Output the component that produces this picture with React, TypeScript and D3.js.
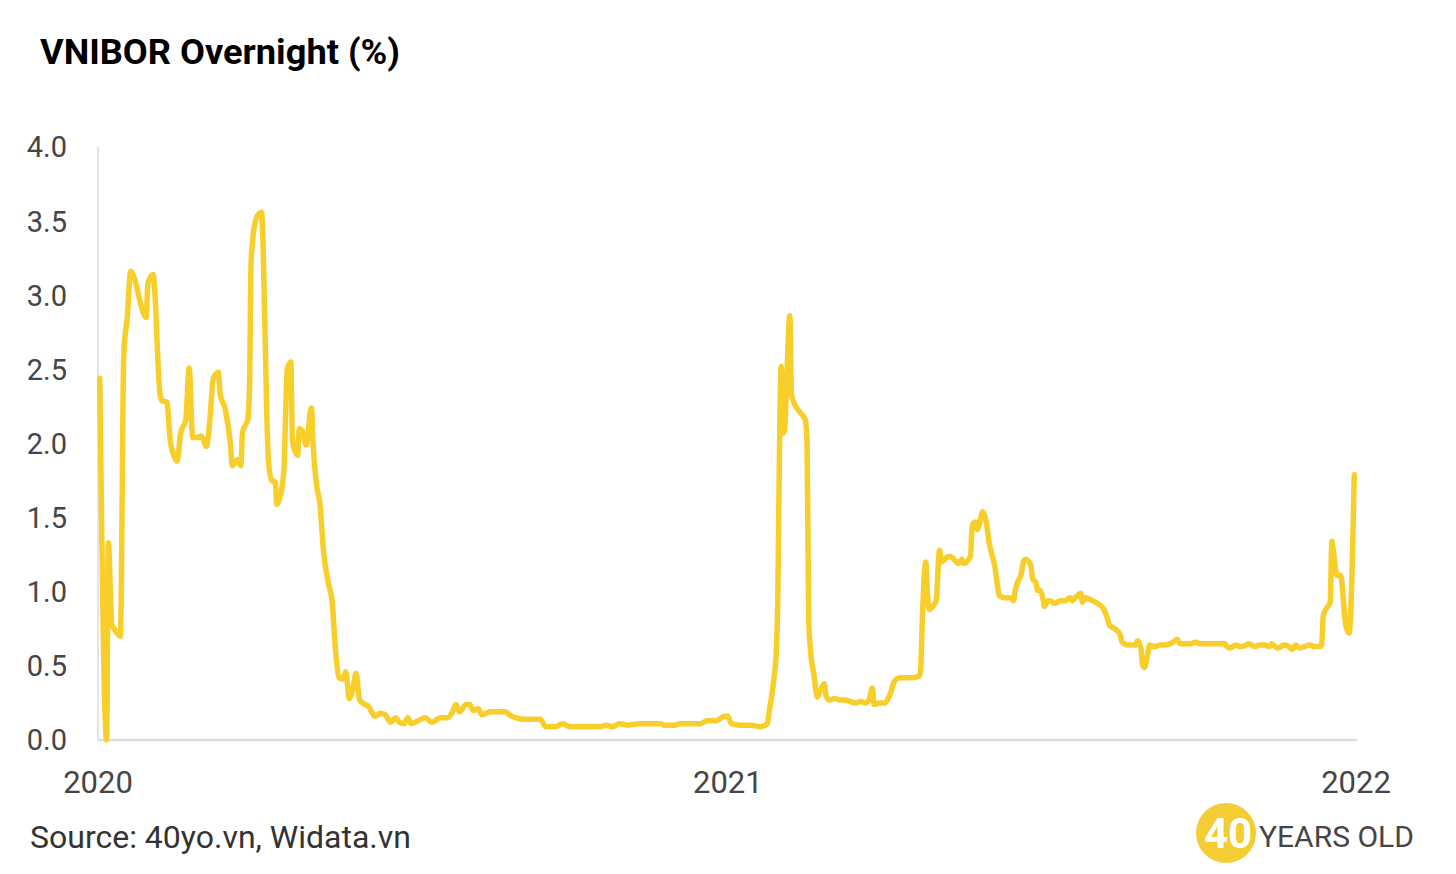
import React from "react";
import * as d3 from "d3";

const dates: string[] = [
  "2020-01-02","2020-01-06","2020-01-07","2020-01-09","2020-01-11","2020-01-14","2020-01-16","2020-01-18","2020-01-20","2020-01-29",
  "2020-01-30","2020-02-02","2020-02-06","2020-02-07","2020-02-10","2020-02-12","2020-02-14","2020-02-16","2020-02-18","2020-02-21",
  "2020-02-23","2020-02-25","2020-02-28","2020-03-01","2020-03-04","2020-03-06","2020-03-08","2020-03-11","2020-03-12","2020-03-15",
  "2020-03-18","2020-03-19","2020-03-22","2020-03-24","2020-03-25","2020-03-28","2020-03-29","2020-03-30","2020-04-02","2020-04-05",
  "2020-04-06","2020-04-08","2020-04-09","2020-04-11","2020-04-13","2020-04-14","2020-04-16","2020-04-18","2020-04-20","2020-04-22",
  "2020-04-23","2020-04-26","2020-04-27","2020-04-29","2020-05-01","2020-05-04","2020-05-05","2020-05-07","2020-05-09","2020-05-11",
  "2020-05-14","2020-05-16","2020-05-18","2020-05-20","2020-05-22","2020-05-24","2020-05-26","2020-05-28","2020-05-30","2020-06-01",
  "2020-06-04","2020-06-06","2020-06-08","2020-06-10","2020-06-13","2020-06-16","2020-06-19","2020-06-22","2020-06-24","2020-06-27",
  "2020-06-29","2020-07-01","2020-07-05","2020-07-09","2020-07-13","2020-07-18","2020-07-22","2020-07-25","2020-07-27","2020-07-29",
  "2020-08-02","2020-08-04","2020-08-06","2020-08-09","2020-08-11","2020-08-16","2020-08-19","2020-08-25","2020-08-27","2020-08-31",
  "2020-09-05","2020-09-09","2020-09-14","2020-09-17","2020-09-23","2020-09-27","2020-10-01","2020-10-07","2020-10-19","2020-10-22",
  "2020-10-26","2020-10-30","2020-11-04","2020-11-10","2020-11-17","2020-11-23","2020-11-25","2020-12-01","2020-12-04","2020-12-10",
  "2020-12-16","2020-12-20","2020-12-25","2020-12-27","2020-12-30","2021-01-01","2021-01-03","2021-01-08","2021-01-14","2021-01-20",
  "2021-01-24","2021-01-25","2021-01-27","2021-01-28","2021-01-29","2021-01-30","2021-01-31","2021-02-01","2021-02-02","2021-02-03",
  "2021-02-04","2021-02-06","2021-02-07","2021-02-09","2021-02-12","2021-02-15","2021-02-16","2021-02-17","2021-02-18","2021-02-20",
  "2021-02-22","2021-02-24","2021-02-26","2021-02-27","2021-03-01","2021-03-04","2021-03-07","2021-03-10","2021-03-13","2021-03-16",
  "2021-03-19","2021-03-22","2021-03-24","2021-03-26","2021-03-27","2021-03-30","2021-04-02","2021-04-05","2021-04-08","2021-04-11",
  "2021-04-14","2021-04-18","2021-04-22","2021-04-23","2021-04-24","2021-04-26","2021-04-27","2021-04-28","2021-04-30","2021-05-02",
  "2021-05-04","2021-05-05","2021-05-08","2021-05-10","2021-05-13","2021-05-15","2021-05-17","2021-05-18","2021-05-22","2021-05-23",
  "2021-05-25","2021-05-26","2021-05-28","2021-05-29","2021-05-31","2021-06-02","2021-06-05","2021-06-08","2021-06-11","2021-06-14",
  "2021-06-16","2021-06-17","2021-06-19","2021-06-20","2021-06-22","2021-06-23","2021-06-26","2021-06-27","2021-06-29","2021-06-30",
  "2021-07-01","2021-07-03","2021-07-04","2021-07-06","2021-07-07","2021-07-10","2021-07-13","2021-07-16","2021-07-19","2021-07-20",
  "2021-07-22","2021-07-25","2021-07-26","2021-07-28","2021-07-30","2021-08-04","2021-08-07","2021-08-09","2021-08-11","2021-08-14",
  "2021-08-17","2021-08-18","2021-08-22","2021-08-26","2021-08-27","2021-08-29","2021-08-30","2021-08-31","2021-09-02","2021-09-03",
  "2021-09-06","2021-09-09","2021-09-12","2021-09-15","2021-09-18","2021-09-19","2021-09-21","2021-09-24","2021-09-27","2021-09-30",
  "2021-10-02","2021-10-05","2021-10-08","2021-10-11","2021-10-14","2021-10-17","2021-10-18","2021-10-20","2021-10-23","2021-10-26",
  "2021-10-29","2021-10-31","2021-11-03","2021-11-06","2021-11-09","2021-11-12","2021-11-13","2021-11-15","2021-11-17","2021-11-20",
  "2021-11-23","2021-11-25","2021-11-27","2021-11-29","2021-12-02","2021-12-05","2021-12-08","2021-12-11","2021-12-12","2021-12-13",
  "2021-12-15","2021-12-17","2021-12-18","2021-12-19","2021-12-21","2021-12-23","2021-12-26","2021-12-28","2021-12-31"
];

const rates: number[] = [
  2.44,0.0,1.33,0.78,0.74,0.70,2.61,2.85,3.16,2.85,
  3.08,3.14,2.34,2.29,2.28,2.02,1.92,1.88,2.07,2.16,
  2.51,2.04,2.04,2.05,1.98,2.16,2.44,2.48,2.33,2.23,
  1.99,1.85,1.89,1.85,2.08,2.16,2.36,3.24,3.52,3.56,
  3.31,2.23,1.89,1.75,1.74,1.59,1.65,1.82,2.50,2.55,
  2.02,1.92,2.10,2.08,1.99,2.24,1.99,1.72,1.59,1.28,
  1.05,0.94,0.61,0.42,0.41,0.46,0.28,0.34,0.45,0.27,
  0.24,0.23,0.19,0.16,0.18,0.17,0.12,0.15,0.12,0.11,
  0.15,0.11,0.13,0.15,0.12,0.15,0.15,0.19,0.24,0.19,
  0.24,0.24,0.20,0.21,0.17,0.19,0.19,0.19,0.17,0.15,
  0.14,0.14,0.14,0.09,0.09,0.11,0.09,0.09,0.09,0.10,
  0.09,0.11,0.10,0.11,0.11,0.11,0.10,0.10,0.11,0.11,
  0.11,0.13,0.13,0.14,0.16,0.16,0.11,0.10,0.10,0.09,
  0.11,0.19,0.34,0.44,0.56,0.94,1.96,2.52,2.07,2.09,
  2.36,2.86,2.33,2.26,2.21,2.16,2.02,0.81,0.61,0.44,
  0.29,0.34,0.38,0.30,0.27,0.28,0.27,0.27,0.26,0.25,
  0.26,0.25,0.27,0.35,0.24,0.25,0.25,0.30,0.40,0.42,
  0.42,0.42,0.43,0.47,0.81,1.20,0.98,0.88,0.90,0.94,
  1.28,1.20,1.23,1.24,1.21,1.19,1.22,1.19,1.24,1.45,
  1.47,1.42,1.50,1.54,1.48,1.32,1.18,0.97,0.96,0.96,
  0.94,1.01,1.08,1.10,1.21,1.22,1.18,1.09,1.06,1.01,
  1.01,0.96,0.90,0.94,0.94,0.92,0.94,0.94,0.96,0.94,
  0.96,0.99,0.93,0.96,0.95,0.92,0.89,0.84,0.77,0.75,
  0.71,0.66,0.64,0.64,0.67,0.62,0.51,0.49,0.58,0.64,
  0.63,0.64,0.64,0.65,0.67,0.68,0.65,0.65,0.65,0.66,
  0.65,0.65,0.65,0.65,0.65,0.65,0.63,0.62,0.64,0.63,
  0.64,0.65,0.63,0.64,0.64,0.63,0.65,0.63,0.62,0.64,
  0.63,0.61,0.64,0.62,0.63,0.64,0.63,0.63,0.64,0.84,
  0.89,0.93,1.34,1.26,1.11,1.11,0.78,0.72,1.79
];

const yTicks: number[] = [0, 0.5, 1, 1.5, 2, 2.5, 3, 3.5, 4];
const xTickLabels: string[] = ["2020", "2021", "2022"];

const TITLE = "VNIBOR Overnight (%)";
const SOURCE = "Source: 40yo.vn, Widata.vn";

export default function App() {
  const W = 1456, H = 874;
  const left = 98, right = 1356, top = 147, bottom = 740;
  const parse = d3.timeParse("%Y-%m-%d");
  const data = dates.map((d, i) => ({ date: parse(d) as Date, v: rates[i] }));
  const x = d3.scaleTime()
    .domain([parse("2020-01-01") as Date, parse("2022-01-01") as Date])
    .range([left, right]);
  const y = d3.scaleLinear().domain([0, 4]).range([bottom, top]);
  const line = d3.line<{ date: Date; v: number }>()
    .x((d) => x(d.date))
    .y((d) => y(d.v))
    .curve(d3.curveMonotoneX);
  const font = "Roboto, 'Noto Sans', sans-serif";
  const textColor = "#454545";

  return (
    <svg width={W} height={H} style={{ position: "absolute", left: 0, top: 0, background: "#fff" }} fontFamily={font}>
      <rect x={0} y={0} width={W} height={H} fill="#fff" />
      <text x={40} y={64} fontSize={35} fontWeight={700} fill="#000" textLength={360} lengthAdjust="spacingAndGlyphs">{TITLE}</text>
      <line x1={left} x2={left} y1={top} y2={bottom} stroke="#dcdde0" strokeWidth={1.5} />
      <line x1={left} x2={right + 1} y1={bottom} y2={bottom} stroke="#dcdde0" strokeWidth={2.5} />
      {yTicks.map((t) => (
        <text key={t} x={67} y={y(t)} dy="0.36em" textAnchor="end" fontSize={29} fill={textColor}>
          {d3.format(".1f")(t)}
        </text>
      ))}
      {xTickLabels.map((lbl) => (
        <text key={lbl} x={x(parse(`${lbl}-01-01`) as Date)} y={793} textAnchor="middle" fontSize={31} fill={textColor}>
          {lbl}
        </text>
      ))}
      <path d={line(data) ?? ""} fill="none" stroke="#F8CE2B" strokeWidth={5.5} strokeLinejoin="round" strokeLinecap="round" />
      <text x={30} y={848} fontSize={32} fill="#333">{SOURCE}</text>
      <g>
        <circle cx={1226} cy={833} r={30} fill="#F4CC33" />
        <text x={1204} y={848} fontSize={42} fontWeight={700} fill="#fff">40</text>
        <text x={1259} y={847} fontSize={30} fill={textColor}>YEARS OLD</text>
      </g>
    </svg>
  );
}
